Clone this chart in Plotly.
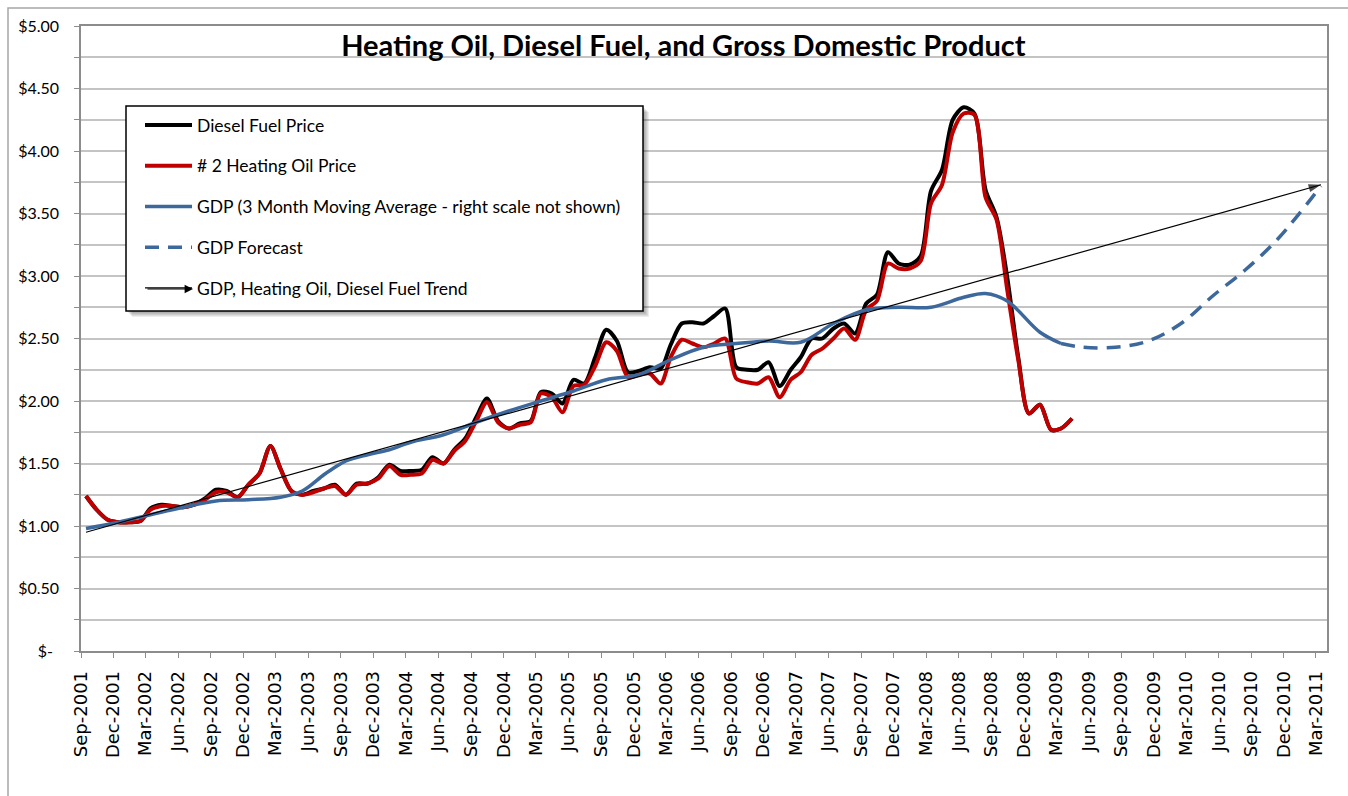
import plotly.graph_objects as go
import pandas as pd

# ---------------- data ----------------
price_months = pd.date_range("2001-09-01", periods=92, freq="MS") + pd.Timedelta(days=14)

diesel = [1.24, 1.13, 1.05, 1.03, 1.03, 1.04, 1.14, 1.17, 1.16, 1.15, 1.17, 1.22,
          1.29, 1.28, 1.23, 1.33, 1.42, 1.64, 1.46, 1.28, 1.25, 1.28, 1.30, 1.33,
          1.25, 1.34, 1.34, 1.39, 1.49, 1.44, 1.44, 1.45, 1.55, 1.50, 1.61, 1.70,
          1.87, 2.02, 1.84, 1.78, 1.82, 1.84, 2.07, 2.06, 1.98, 2.17, 2.14, 2.35,
          2.57, 2.48, 2.23, 2.24, 2.27, 2.26, 2.45, 2.62, 2.63, 2.62, 2.68, 2.74,
          2.27, 2.25, 2.25, 2.31, 2.12, 2.25, 2.35, 2.50, 2.50, 2.58, 2.62, 2.54,
          2.78, 2.85, 3.19, 3.10, 3.09, 3.16, 3.68, 3.85, 4.25, 4.35, 4.30, 3.69,
          3.47, 2.99, 2.35, 1.90, 1.97, 1.77, 1.78, 1.86]

heating = [1.24, 1.13, 1.05, 1.03, 1.03, 1.04, 1.13, 1.16, 1.16, 1.15, 1.17, 1.21,
           1.27, 1.27, 1.23, 1.33, 1.42, 1.64, 1.46, 1.28, 1.25, 1.27, 1.30, 1.32,
           1.25, 1.33, 1.34, 1.38, 1.48, 1.41, 1.41, 1.42, 1.53, 1.50, 1.60, 1.68,
           1.84, 1.99, 1.83, 1.78, 1.81, 1.83, 2.06, 2.03, 1.91, 2.12, 2.13, 2.28,
           2.47, 2.40, 2.19, 2.21, 2.22, 2.14, 2.35, 2.49, 2.46, 2.43, 2.46, 2.50,
           2.18, 2.15, 2.14, 2.19, 2.03, 2.17, 2.23, 2.37, 2.42, 2.50, 2.58, 2.49,
           2.73, 2.80, 3.10, 3.06, 3.06, 3.12, 3.58, 3.73, 4.15, 4.30, 4.29, 3.63,
           3.45, 2.89, 2.33, 1.90, 1.97, 1.77, 1.78, 1.86]

gdp_dates = ["2001-09-15", "2001-12-15", "2002-03-15", "2002-06-15", "2002-09-15",
             "2002-12-15", "2003-03-15", "2003-05-15", "2003-07-15", "2003-08-15",
             "2003-09-15", "2003-11-15", "2004-01-15", "2004-03-15", "2004-06-15",
             "2004-09-15", "2004-12-15", "2005-03-15", "2005-06-15", "2005-09-15",
             "2005-12-15", "2006-03-15", "2006-06-15", "2006-09-15", "2006-12-15",
             "2007-03-15", "2007-06-15", "2007-09-15", "2007-12-15", "2008-03-15",
             "2008-06-15", "2008-08-15", "2008-10-15", "2009-01-15", "2009-03-15"]
gdp_vals = [0.98, 1.03, 1.09, 1.15, 1.20,
            1.21, 1.23, 1.28, 1.41, 1.47,
            1.52, 1.57, 1.61, 1.67, 1.73,
            1.83, 1.92, 2.00, 2.08, 2.17,
            2.21, 2.33, 2.43, 2.46, 2.48,
            2.47, 2.62, 2.73, 2.75, 2.75,
            2.83, 2.86, 2.80, 2.55, 2.46]

forecast_dates = ["2009-03-15", "2009-05-15", "2009-08-15", "2009-11-15", "2010-02-15",
                  "2010-05-15", "2010-08-15", "2010-11-15", "2011-03-15"]
forecast_vals = [2.46, 2.43, 2.43, 2.48, 2.62, 2.84, 3.05, 3.30, 3.72]

trend_dates = ["2001-09-15", "2011-03-15"]
trend_vals = [0.95, 3.73]

y_tickvals = [0, 0.5, 1.0, 1.5, 2.0, 2.5, 3.0, 3.5, 4.0, 4.5, 5.0]
y_ticktext = ["$-\u00a0\u2009", "$0.50", "$1.00", "$1.50", "$2.00", "$2.50",
              "$3.00", "$3.50", "$4.00", "$4.50", "$5.00"]

title_text = "Heating Oil, Diesel Fuel, and Gross Domestic Product"

# ---------------- figure ----------------
FONT = "Lato"
RED = "#C00000"
BLUE = "#3D689C"
GRID = "#C4C4C4"
AXIS = "#8C8C8C"

# plot-area geometry in pixels (used only to place paper-referenced decorations)
PL, PR, PT, PB = 81, 1327, 26, 651
PW, PH = PR - PL, PB - PT


def px(xp):
    return (xp - PL) / PW


def py(yp):
    return (PB - yp) / PH


fig = go.Figure()

fig.add_trace(go.Scatter(x=price_months, y=diesel, name="Diesel Fuel Price",
                         mode="lines", line=dict(color="black", width=4, shape="spline", smoothing=0.8),
                         legendgroup="a"))
fig.add_trace(go.Scatter(x=price_months, y=heating, name="# 2 Heating Oil Price",
                         mode="lines", line=dict(color=RED, width=4, shape="spline", smoothing=0.8),
                         legendgroup="b"))
fig.add_trace(go.Scatter(x=gdp_dates, y=gdp_vals,
                         name="GDP (3 Month Moving Average - right scale not shown)",
                         mode="lines", line=dict(color=BLUE, width=3.5, shape="spline", smoothing=1.0),
                         legendgroup="c"))
fig.add_trace(go.Scatter(x=forecast_dates, y=forecast_vals, name="GDP Forecast",
                         mode="lines", line=dict(color=BLUE, width=3.5, dash="14px,9px",
                                                 shape="spline", smoothing=1.0),
                         legendgroup="d"))
fig.add_trace(go.Scatter(x=trend_dates, y=trend_vals, name="GDP, Heating Oil, Diesel Fuel Trend",
                         mode="lines", line=dict(color="black", width=1.2),
                         legendgroup="e"))
fig.add_trace(go.Scatter(x=trend_dates, y=trend_vals, mode="markers", showlegend=False,
                         hoverinfo="skip",
                         marker=dict(symbol="arrow", angleref="previous", size=[0, 13],
                                     color="black", line=dict(width=0))))

fig.update_layout(
    width=1348, height=796,
    margin=dict(l=PL, r=1348 - PR, t=PT, b=796 - PB),
    paper_bgcolor="white", plot_bgcolor="white",
    font=dict(family=FONT, color="black"),
    title=dict(text="<b>" + title_text + "</b>", x=0.507, xanchor="center",
               y=1 - 46 / 796, yanchor="middle", yref="container",
               font=dict(family=FONT, size=29, color="black")),
    showlegend=True,
    legend=dict(x=px(127), y=py(107), xanchor="left", yanchor="top",
                bgcolor="rgba(0,0,0,0)", borderwidth=0,
                font=dict(family=FONT, size=17.5, color="black"),
                tracegroupgap=15, itemwidth=47, traceorder="grouped",
                indentation=13),
    xaxis=dict(type="date", range=["2001-09-01", "2011-04-01"],
               tick0="2001-09-01", dtick="M3", tickformat="%b-%Y", tickangle=-90,
               ticks="outside", ticklen=5, tickcolor=AXIS, ticklabelstandoff=6,
               showline=True, linecolor=AXIS, linewidth=1.5, mirror=True,
               showgrid=False, zeroline=False,
               tickfont=dict(family="DejaVu Sans", size=18, color="black")),
    yaxis=dict(range=[0, 5], tickvals=y_tickvals, ticktext=y_ticktext,
               ticks="outside", ticklen=5, tickcolor=AXIS, ticklabelstandoff=12,
               showline=True, linecolor=AXIS, linewidth=1.5, mirror=True,
               showgrid=True, gridcolor=GRID, gridwidth=1.5, zeroline=False,
               minor=dict(dtick=0.25, showgrid=True, gridcolor=GRID, gridwidth=1.5,
                          ticks="outside", ticklen=5, tickcolor=AXIS),
               tickfont=dict(family=FONT, size=16, color="black")),
)

# outer chart frame
fig.add_shape(type="rect", xref="paper", yref="paper",
              x0=px(8), x1=px(1400), y0=py(820), y1=py(8),
              line=dict(color="#A6A6A6", width=1.5), layer="below")

# legend box: soft drop shadow, then white framed panel
for k in range(1, 7):
    fig.add_shape(type="rect", xref="paper", yref="paper",
                  x0=px(126 + k), x1=px(643 + k), y0=py(311 + k), y1=py(106 + k),
                  fillcolor="rgba(0,0,0,0.07)", line=dict(width=0), layer="above")
fig.add_shape(type="rect", xref="paper", yref="paper",
              x0=px(126), x1=px(643), y0=py(311), y1=py(106),
              fillcolor="white", line=dict(color="black", width=1.5), layer="above")

# arrowhead on the legend's trend sample
fig.add_annotation(xref="paper", yref="paper", x=px(193), y=py(289),
                   ax=-47, ay=0, text="", showarrow=True,
                   arrowhead=2, arrowsize=1.4, arrowwidth=1.2, arrowcolor="black")

fig.write_html("out.html", post_script="document.body.style.margin='0';",
               config={"displayModeBar": False})
